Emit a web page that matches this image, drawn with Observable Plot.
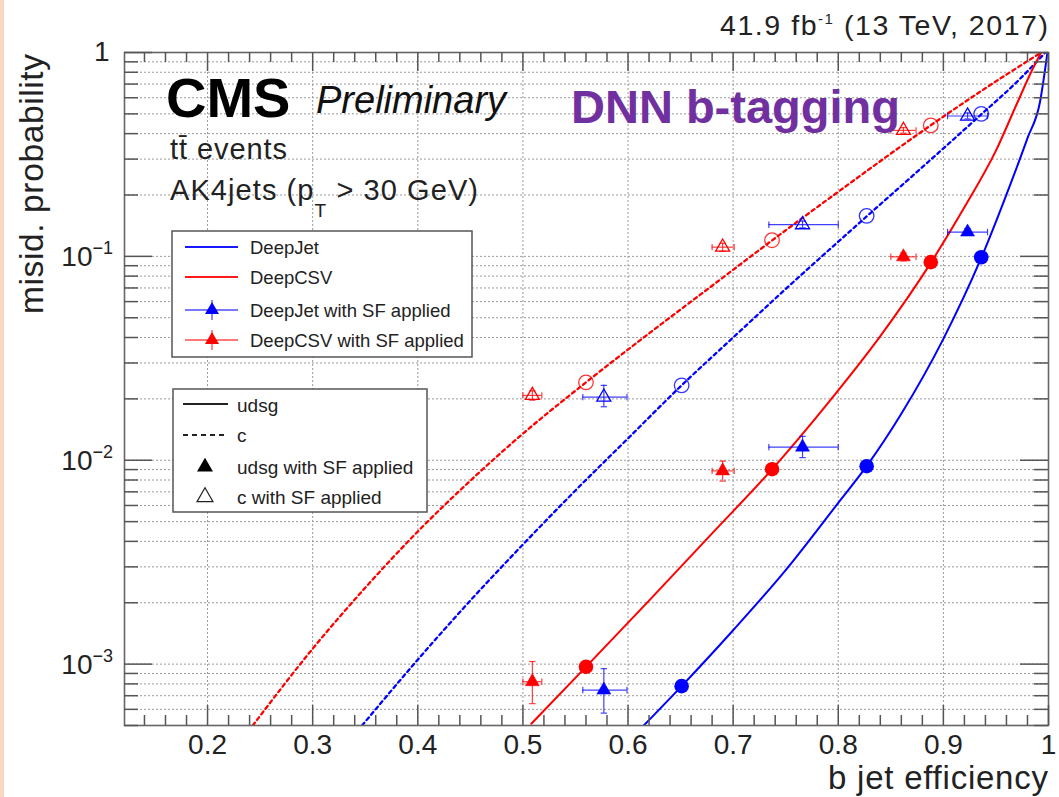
<!DOCTYPE html>
<html><head><meta charset="utf-8">
<script src="https://cdn.jsdelivr.net/npm/d3@7"></script>
<script src="https://cdn.jsdelivr.net/npm/@observablehq/plot@0.6"></script>
<style>
html,body{margin:0;padding:0;background:#fff;}
#wrap{position:relative;width:1059px;height:797px;overflow:hidden;background:#fff;}
#strip{position:absolute;left:0;top:0;width:4px;height:797px;background:#fbd6c2;}
#wrap svg{position:absolute;left:0;top:0;}
</style></head><body><div id="wrap"><div id="strip"></div></div>
<script>
// ---------- axis ticks ----------
const xTickValues = [0.2, 0.3, 0.4, 0.5, 0.6, 0.7, 0.8, 0.9, 1];
const xTickLabels = ["0.2", "0.3", "0.4", "0.5", "0.6", "0.7", "0.8", "0.9", "1"];
const yDecades = [1e-3, 1e-2, 1e-1];
const yDecadeExp = ["\u22123", "\u22122", "\u22121"];
const yTop = [1];

// ---------- ROC curves (b jet efficiency vs misid. probability) ----------
const deepJetUdsgEff   = [0.615, 0.651, 0.700, 0.750, 0.800, 0.827, 0.860, 0.900, 0.936, 0.960, 0.980, 0.992, 0.999];
const deepJetUdsgMisid = [5.0e-4, 7.8e-4, 1.466e-3, 2.89e-3, 6.18e-3, 9.35e-3, 0.0169, 0.0394, 0.0982, 0.201, 0.380, 0.575, 1.0];

const deepCsvUdsgEff   = [0.508, 0.560, 0.620, 0.680, 0.737, 0.790, 0.840, 0.888, 0.920, 0.950, 0.970, 0.985, 0.993];
const deepCsvUdsgMisid = [5.1e-4, 9.7e-4, 2.05e-3, 4.38e-3, 9.02e-3, 0.0190, 0.0406, 0.0929, 0.174, 0.330, 0.562, 0.832, 1.0];

const deepJetCEff   = [0.347, 0.400, 0.450, 0.500, 0.550, 0.600, 0.651, 0.700, 0.750, 0.827, 0.880, 0.936, 0.970, 0.997];
const deepJetCMisid = [5e-4, 1.052e-3, 2.05e-3, 3.86e-3, 7.11e-3, 0.0128, 0.0233, 0.040, 0.0692, 0.157, 0.274, 0.497, 0.718, 1.0];

const deepCsvCEff   = [0.243, 0.300, 0.350, 0.400, 0.450, 0.500, 0.560, 0.620, 0.680, 0.737, 0.800, 0.888, 0.940, 0.993];
const deepCsvCMisid = [5e-4, 1.19e-3, 2.37e-3, 4.47e-3, 7.94e-3, 0.0135, 0.0241, 0.0419, 0.0718, 0.1197, 0.2075, 0.4395, 0.668, 1.0];

// ---------- working points (circles) ----------
const deepJetWpEff  = [0.651, 0.827, 0.936];
const deepJetWpUdsg = [7.8e-4, 9.35e-3, 0.099];
const deepJetWpC    = [0.0233, 0.158, 0.50];
const deepCsvWpEff  = [0.560, 0.737, 0.888];
const deepCsvWpUdsg = [9.7e-4, 9.04e-3, 0.0937];
const deepCsvWpC    = [0.0241, 0.120, 0.439];

// ---------- with SF applied (triangles with errors) ----------
const deepJetSfEff     = [0.577, 0.766, 0.923];
const deepJetSfEffLo   = [0.557, 0.734, 0.904];
const deepJetSfEffHi   = [0.599, 0.800, 0.942];
const deepJetSfUdsg    = [7.46e-4, 0.0116, 0.1316];
const deepJetSfUdsgLo  = [5.75e-4, 0.0103, 0.127];
const deepJetSfUdsgHi  = [9.5e-4, 0.0131, 0.137];
const deepJetSfC       = [0.0204, 0.143, 0.488];
const deepJetSfCLo     = [0.0183, 0.138, 0.472];
const deepJetSfCHi     = [0.0233, 0.149, 0.505];

const deepCsvSfEff     = [0.509, 0.690, 0.862];
const deepCsvSfEffLo   = [0.500, 0.680, 0.850];
const deepCsvSfEffHi   = [0.518, 0.701, 0.874];
const deepCsvSfUdsg    = [8.2e-4, 8.87e-3, 0.0995];
const deepCsvSfUdsgLo  = [6.4e-4, 7.9e-3, 0.095];
const deepCsvSfUdsgHi  = [1.03e-3, 9.9e-3, 0.104];
const deepCsvSfC       = [0.0208, 0.111, 0.415];
const deepCsvSfCLo     = [0.0197, 0.106, 0.402];
const deepCsvSfCHi     = [0.0219, 0.116, 0.428];

// ---------- build tables ----------
const zip = (xs, ys) => xs.map((x, i) => ({eff: x, misid: ys[i]}));
const sfRows = (e, lo, hi, v, vlo, vhi) => e.map((x, i) => ({eff: x, lo: lo[i], hi: hi[i], v: v[i], vlo: vlo[i], vhi: vhi[i]}));

const BLUE = "#0000ff", RED = "#ff0000";
const W = 1059, H = 797, mL = 124, mR = 11, mT = 52, mB = 72;
const plotW = W - mL - mR, plotH = H - mT - mB;
const FONT = '"Liberation Sans", Arial, Helvetica, sans-serif';

const xMinor = d3.range(14, 100, 2).filter(k => k % 10 !== 0).map(k => k / 100);
const xGrid = xTickValues.filter(v => v < 1);
const yMinor = [];
for (const e of [-4, -3, -2, -1]) for (let k = 2; k <= 9; k++) { const v = k * Math.pow(10, e); if (v >= 5e-4 && v < 1) yMinor.push(v); }
const yMajorAll = [...yDecades, ...yTop];

const vcap = {draw(ctx, size) { const r = Math.sqrt(size / Math.PI); ctx.moveTo(0, -r); ctx.lineTo(0, r); }};
const hcap = {draw(ctx, size) { const r = Math.sqrt(size / Math.PI); ctx.moveTo(-r, 0); ctx.lineTo(r, 0); }};

function errMarks(rows, color, open) {
  const st = {stroke: color, strokeWidth: 1.2, strokeOpacity: 0.75};
  return [
    Plot.ruleY(rows, {y: "v", x1: "lo", x2: "hi", ...st}),
    Plot.ruleX(rows, {x: "eff", y1: "vlo", y2: "vhi", ...st}),
    Plot.dot(rows, {x: "lo", y: "v", symbol: vcap, r: 3.2, fill: "none", ...st}),
    Plot.dot(rows, {x: "hi", y: "v", symbol: vcap, r: 3.2, fill: "none", ...st}),
    Plot.dot(rows, {x: "eff", y: "vlo", symbol: hcap, r: 3.2, fill: "none", ...st}),
    Plot.dot(rows, {x: "eff", y: "vhi", symbol: hcap, r: 3.2, fill: "none", ...st}),
    open
      ? Plot.dot(rows, {x: "eff", y: "v", symbol: "triangle", r: 5.2, fill: "none", stroke: color, strokeWidth: 1.3})
      : Plot.dot(rows, {x: "eff", y: "v", symbol: "triangle", r: 5.2, fill: color, stroke: color, strokeWidth: 0.5})
  ];
}

const gridStyle = {stroke: "#9a9a9a", strokeOpacity: 1, strokeWidth: 1, strokeDasharray: "2,2"};
const tickStyle = {stroke: "#555", strokeWidth: 1.5};
const lineOpts = {x: "eff", y: "misid", curve: "monotone-x", clip: true};

const chart = Plot.plot({
  width: W, height: H,
  marginLeft: mL, marginRight: mR, marginTop: mT, marginBottom: mB,
  style: {fontFamily: FONT, background: "transparent", color: "#222", overflow: "visible"},
  x: {domain: [0.121, 1]},
  y: {type: "log", domain: [5e-4, 1], axis: null},
  marks: [
    Plot.gridX(xGrid, gridStyle),
    Plot.gridY([...yMinor, ...yDecades], gridStyle),
    // curves
    Plot.line(zip(deepCsvCEff, deepCsvCMisid), {...lineOpts, stroke: RED, strokeWidth: 2.3, strokeDasharray: "3.5,3.5"}),
    Plot.line(zip(deepJetCEff, deepJetCMisid), {...lineOpts, stroke: BLUE, strokeWidth: 2.3, strokeDasharray: "3.5,3.5"}),
    Plot.line(zip(deepCsvUdsgEff, deepCsvUdsgMisid), {...lineOpts, stroke: RED, strokeWidth: 2}),
    Plot.line(zip(deepJetUdsgEff, deepJetUdsgMisid), {...lineOpts, stroke: BLUE, strokeWidth: 2}),
    // working points
    Plot.dot(zip(deepCsvWpEff, deepCsvWpC), {x: "eff", y: "misid", r: 7.3, fill: "none", stroke: RED, strokeWidth: 1.3, strokeOpacity: 0.8}),
    Plot.dot(zip(deepJetWpEff, deepJetWpC), {x: "eff", y: "misid", r: 7.3, fill: "none", stroke: BLUE, strokeWidth: 1.3, strokeOpacity: 0.8}),
    Plot.dot(zip(deepCsvWpEff, deepCsvWpUdsg), {x: "eff", y: "misid", r: 7.3, fill: RED}),
    Plot.dot(zip(deepJetWpEff, deepJetWpUdsg), {x: "eff", y: "misid", r: 7.3, fill: BLUE}),
    // SF applied
    ...errMarks(sfRows(deepCsvSfEff, deepCsvSfEffLo, deepCsvSfEffHi, deepCsvSfC, deepCsvSfCLo, deepCsvSfCHi), RED, true),
    ...errMarks(sfRows(deepJetSfEff, deepJetSfEffLo, deepJetSfEffHi, deepJetSfC, deepJetSfCLo, deepJetSfCHi), BLUE, true),
    ...errMarks(sfRows(deepCsvSfEff, deepCsvSfEffLo, deepCsvSfEffHi, deepCsvSfUdsg, deepCsvSfUdsgLo, deepCsvSfUdsgHi), RED, false),
    ...errMarks(sfRows(deepJetSfEff, deepJetSfEffLo, deepJetSfEffHi, deepJetSfUdsg, deepJetSfUdsgLo, deepJetSfUdsgHi), BLUE, false),
    // frame and inner ticks
    Plot.frame({stroke: "#666", strokeWidth: 1.6}),
    Plot.tickX(xTickValues, {x: d => d, insetTop: plotH - 20, ...tickStyle}),
    Plot.tickX(xTickValues, {x: d => d, insetBottom: plotH - 19, ...tickStyle}),
    Plot.tickX(xMinor, {x: d => d, insetTop: plotH - 10, ...tickStyle}),
    Plot.tickX(xMinor, {x: d => d, insetBottom: plotH - 10, ...tickStyle}),
    Plot.tickY(yMajorAll, {y: d => d, insetRight: plotW - 28, ...tickStyle}),
    Plot.tickY(yMajorAll, {y: d => d, insetLeft: plotW - 28, ...tickStyle}),
    Plot.tickY(yMinor, {y: d => d, insetRight: plotW - 14, ...tickStyle}),
    Plot.tickY(yMinor, {y: d => d, insetLeft: plotW - 14, ...tickStyle}),
    // axis labels
    Plot.axisX(xTickValues, {tickSize: 0, tickPadding: 9, fontSize: 28, label: null, fill: "#222",
      tickFormat: d => xTickLabels[xTickValues.indexOf(d)]}),
    Plot.text(yDecades, {y: d => d, frameAnchor: "left", text: () => "10", textAnchor: "end", dx: -32, dy: 1, fontSize: 28, fill: "#222"}),
    Plot.text(yDecades, {y: d => d, frameAnchor: "left", text: (d, i) => yDecadeExp[i], textAnchor: "start", dx: -32, dy: -8, fontSize: 18, fill: "#222"}),
    Plot.text(yTop, {y: d => d, frameAnchor: "left", text: () => "1", textAnchor: "end", dx: -15, dy: 0, fontSize: 28, fill: "#222"})
  ]
});
document.getElementById("wrap").appendChild(chart);

// ---------- annotations & legends ----------
const svg = d3.select(chart);
const g = svg.append("g").attr("font-family", FONT).attr("fill", "#222").attr("text-anchor", "start");

function addText(x, y, parts, attrs = {}) {
  const t = g.append("text").attr("x", x).attr("y", y).attr("text-anchor", "start");
  for (const [k, v] of Object.entries(attrs)) t.attr(k, v);
  for (const p of parts) {
    const s = t.append("tspan").text(p.t);
    if (p.size) s.attr("font-size", p.size);
    if (p.dy) s.attr("dy", p.dy);
  }
  return t;
}

addText(1048, 35, [{t: "41.9 fb", size: 28.5}, {t: "-1", size: 15, dy: -11}, {t: " (13 TeV, 2017)", size: 28.5, dy: 11}], {"text-anchor": "end", textLength: 328, lengthAdjust: "spacing"});
addText(166, 117, [{t: "CMS"}], {"font-size": 56, "font-weight": "bold", fill: "#000"});
addText(316, 113, [{t: "Preliminary"}], {"font-size": 38, "font-style": "italic", fill: "#111"});
addText(170, 159, [{t: "tt\u0304 events"}], {"font-size": 29, textLength: 117, lengthAdjust: "spacing"});
addText(170, 200, [{t: "AK4jets (p", size: 29}, {t: "T", size: 19, dy: 17}, {t: " > 30 GeV)", size: 29, dy: -17}], {textLength: 308, lengthAdjust: "spacing"});
addText(571, 123, [{t: "DNN b-tagging"}], {"font-size": 47, "font-weight": "bold", fill: "#7030a0"});
addText(0, 0, [{t: "misid. probability"}], {"font-size": 33.5, "text-anchor": "end", transform: "translate(43,54) rotate(-90)", textLength: 260, lengthAdjust: "spacing"});
addText(1048, 789, [{t: "b jet efficiency"}], {"font-size": 33, "text-anchor": "end", textLength: 220, lengthAdjust: "spacing"});

// legend 1
const L1 = [
  {label: "DeepJet", color: BLUE, y: 247, sf: false},
  {label: "DeepCSV", color: RED, y: 277, sf: false},
  {label: "DeepJet with SF applied", color: BLUE, y: 310, sf: true},
  {label: "DeepCSV with SF applied", color: RED, y: 340, sf: true}
];
g.append("rect").attr("x", 172).attr("y", 231).attr("width", 300).attr("height", 126)
  .attr("fill", "#fff").attr("stroke", "#555").attr("stroke-width", 1.5);
for (const e of L1) {
  g.append("line").attr("x1", 185).attr("x2", 238).attr("y1", e.y).attr("y2", e.y)
    .attr("stroke", e.color).attr("stroke-width", e.sf ? 1.3 : 2).attr("stroke-opacity", e.sf ? 0.7 : 0.9);
  if (e.sf) {
    g.append("line").attr("x1", 212).attr("x2", 212).attr("y1", e.y - 10).attr("y2", e.y + 10)
      .attr("stroke", e.color).attr("stroke-width", 1.3).attr("stroke-opacity", 0.7);
    g.append("path").attr("d", d3.symbol(d3.symbolTriangle, 85)()).attr("transform", `translate(212,${e.y})`).attr("fill", e.color);
  }
  addText(250, e.y + 7, [{t: e.label}], {"font-size": 18.5});
}

// legend 2
g.append("rect").attr("x", 173).attr("y", 389).attr("width", 254).attr("height", 123)
  .attr("fill", "#fff").attr("stroke", "#555").attr("stroke-width", 1.5);
g.append("line").attr("x1", 183).attr("x2", 228).attr("y1", 404).attr("y2", 404).attr("stroke", "#222").attr("stroke-width", 2);
g.append("line").attr("x1", 183).attr("x2", 228).attr("y1", 435).attr("y2", 435).attr("stroke", "#222").attr("stroke-width", 2).attr("stroke-dasharray", "5,4");
g.append("path").attr("d", d3.symbol(d3.symbolTriangle, 110)()).attr("transform", "translate(205,467)").attr("fill", "#000");
g.append("path").attr("d", d3.symbol(d3.symbolTriangle, 110)()).attr("transform", "translate(205,497)").attr("fill", "none").attr("stroke", "#222").attr("stroke-width", 1.2);
addText(237, 412, [{t: "udsg"}], {"font-size": 19});
addText(237, 442, [{t: "c"}], {"font-size": 19});
addText(237, 474, [{t: "udsg with SF applied"}], {"font-size": 19});
addText(237, 504, [{t: "c with SF applied"}], {"font-size": 19});
</script></body></html>
